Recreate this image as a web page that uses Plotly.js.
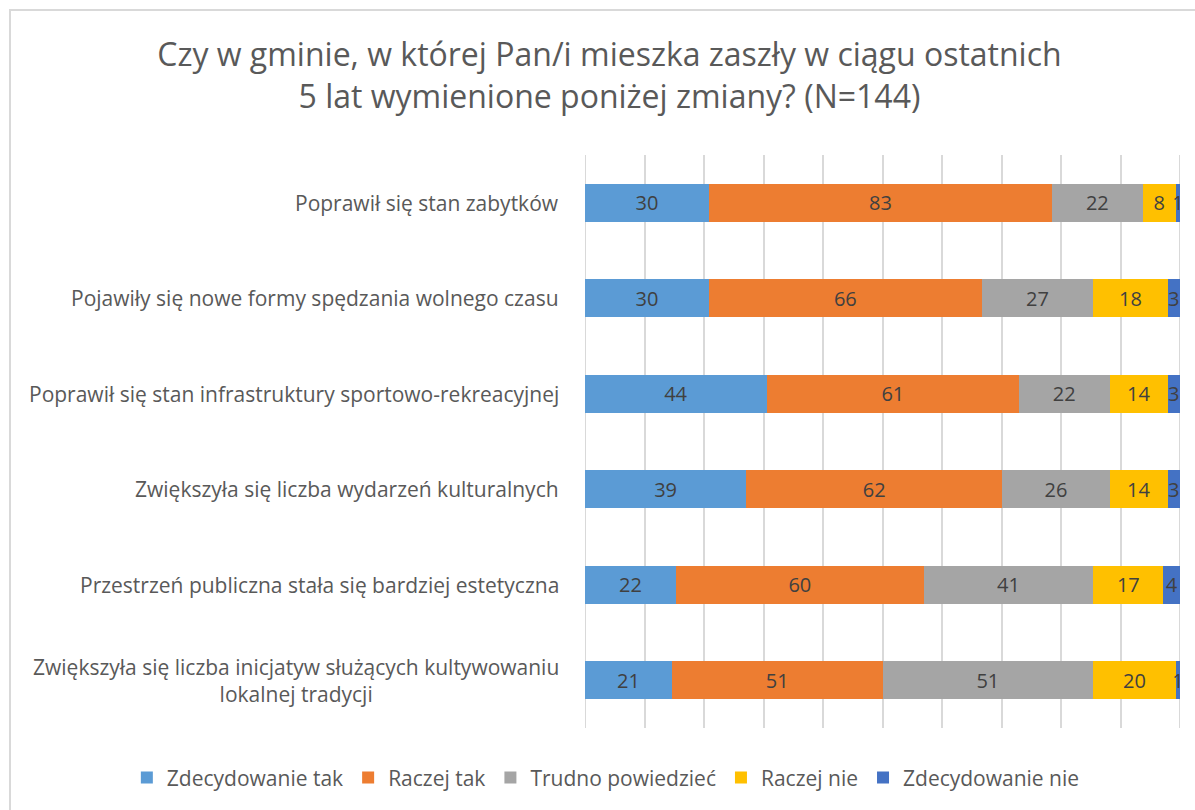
<!DOCTYPE html>
<html>
<head>
<meta charset="utf-8">
<script src="https://cdn.plot.ly/plotly-3.0.1.min.js"></script>
<style>
html,body{margin:0;padding:0;background:#fff;overflow:hidden;width:1195px;height:810px;}
#chart{width:1195px;height:810px;}
#frame{position:absolute;left:9px;top:9px;width:1200px;height:820px;border:2px solid #d9d9d9;pointer-events:none;box-sizing:border-box;}
</style>
</head>
<body>
<div id="chart"></div>
<div id="frame"></div>
<script>
const categories = [
  "Poprawił się stan zabytków",
  "Pojawiły się nowe formy spędzania wolnego czasu",
  "Poprawił się stan infrastruktury sportowo-rekreacyjnej",
  "Zwiększyła się liczba wydarzeń kulturalnych",
  "Przestrzeń publiczna stała się bardziej estetyczna",
  "Zwiększyła się liczba inicjatyw służących kultywowaniu<br>lokalnej tradycji"
];
const seriesNames = ["Zdecydowanie tak", "Raczej tak", "Trudno powiedzieć", "Raczej nie", "Zdecydowanie nie"];
const zdecydowanieTak = [30, 30, 44, 39, 22, 21];
const raczejTak      = [83, 66, 61, 62, 60, 51];
const trudno         = [22, 27, 22, 26, 41, 51];
const raczejNie      = [8, 18, 14, 14, 17, 20];
const zdecydowanieNie= [1, 3, 3, 3, 4, 1];
const seriesValues = [zdecydowanieTak, raczejTak, trudno, raczejNie, zdecydowanieNie];
const colors = ["#5B9BD5", "#ED7D31", "#A5A5A5", "#FFC000", "#4472C4"];
const axisEnds = [0, 100];

const FONT = "'Open Sans', sans-serif";
const traces = seriesNames.map((name, i) => ({
  type: "bar",
  orientation: "h",
  name: name,
  y: categories,
  x: seriesValues[i],
  marker: {color: colors[i]},
  text: seriesValues[i].map(String),
  textposition: "inside",
  insidetextanchor: "middle",
  constraintext: "none",
  textfont: {family: FONT, size: 20, color: "#404040"},
  hoverinfo: "name+x"
}));

const annotations = categories.map(c => ({
  xref: "paper", yref: "y",
  x: -0.04, y: c,
  xanchor: "right", yanchor: "middle",
  align: "center",
  text: c,
  showarrow: false,
  font: {family: FONT, size: 21, color: "#595959"}
}));

const shapes = axisEnds.map(v => ({
  type: "line", layer: "below",
  xref: "x", yref: "paper",
  x0: v, x1: v, y0: 0, y1: 1,
  line: {color: "#d9d9d9", width: 2}
}));

const layout = {
  width: 1195, height: 810,
  paper_bgcolor: "#ffffff", plot_bgcolor: "#ffffff",
  margin: {l: 585, r: 15, t: 155, b: 80},
  barmode: "stack",
  barnorm: "percent",
  bargap: 0.6,
  title: {
    text: "Czy w gminie, w której Pan/i mieszka zaszły w ciągu ostatnich<br>5 lat wymienione poniżej zmiany? (N=144)",
    font: {family: FONT, size: 32, color: "#595959"},
    xref: "container", x: 0.51, xanchor: "center",
    yref: "container", y: 0.918, yanchor: "top"
  },
  xaxis: {
    range: [0, 100], dtick: 10, tick0: 0,
    showticklabels: false, ticks: "",
    showgrid: true, gridcolor: "#d9d9d9", gridwidth: 2,
    zeroline: false, showline: false, fixedrange: true
  },
  yaxis: {
    autorange: "reversed",
    showticklabels: false, ticks: "",
    showgrid: false, zeroline: false, showline: false
  },
  shapes: shapes,
  annotations: annotations,
  showlegend: true,
  legend: {
    orientation: "h",
    xref: "paper", x: -0.77, xanchor: "left",
    yref: "paper", y: -0.087, yanchor: "middle",
    font: {family: FONT, size: 21, color: "#595959"},
    traceorder: "normal",
    itemwidth: 30
  }
};

Plotly.newPlot("chart", traces, layout, {displayModeBar: false, staticPlot: true});
</script>
</body>
</html>
